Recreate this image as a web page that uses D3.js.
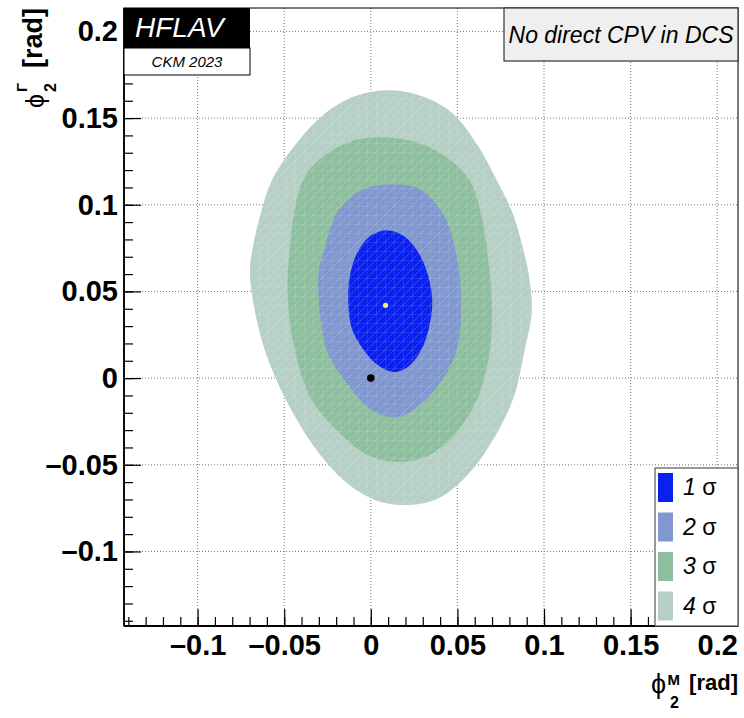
<!DOCTYPE html>
<html>
<head>
<meta charset="utf-8">
<script src="https://cdn.jsdelivr.net/npm/d3@7/dist/d3.min.js"></script>
<style>
  body { margin: 0; background: #fff; }
  svg { display: block; font-family: "Liberation Sans", Arial, sans-serif; }
</style>
</head>
<body>
<div id="chart"></div>
<script>
// confidence-level contours in (phi2M, phi2Gamma), values in rad
var sigma1 = [[0.0355,0.0444],[0.0328,0.0600],[0.0269,0.0733],[0.0186,0.0822],[0.0092,0.0853],
  [0.0001,0.0822],[-0.0073,0.0733],[-0.0119,0.0600],[-0.0130,0.0444],[-0.0110,0.0288],
  [-0.0040,0.0161],[0.0040,0.0075],[0.0133,0.0035],[0.0219,0.0069],[0.0288,0.0156],
  [0.0335,0.0288]];
var sigma2 = [[0.0127,0.1118],[0.0283,0.1089],[0.0415,0.0951],[0.0485,0.0755],[0.0519,0.0507],
  [0.0496,0.0161],[0.0398,-0.0029],[0.0283,-0.0156],[0.0150,-0.0225],[0.0006,-0.0184],
  [-0.0138,-0.0029],[-0.0254,0.0161],[-0.0300,0.0450],[-0.0300,0.0622],[-0.0265,0.0755],
  [-0.0196,0.0951],[-0.0052,0.1084]];
var sigma3 = [[0.0092,0.1389],[0.0283,0.1354],[0.0438,0.1274],[0.0571,0.1141],[0.0635,0.0951],
  [0.0669,0.0755],[0.0698,0.0450],[0.0687,0.0161],[0.0612,-0.0127],[0.0456,-0.0357],
  [0.0312,-0.0455],[0.0150,-0.0484],[-0.0006,-0.0450],[-0.0138,-0.0357],[-0.0340,-0.0127],
  [-0.0438,0.0161],[-0.0479,0.0450],[-0.0467,0.0755],[-0.0392,0.1141],[-0.0265,0.1285],
  [-0.0092,0.1372]];
var sigma4 = [[0.0127,0.1660],[0.0312,0.1620],[0.0473,0.1527],[0.0617,0.1343],[0.0727,0.1141],
  [0.0819,0.0951],[0.0877,0.0755],[0.0917,0.0565],[0.0929,0.0375],[0.0888,0.0161],
  [0.0819,-0.0127],[0.0669,-0.0415],[0.0513,-0.0605],[0.0369,-0.0703],[0.0185,-0.0732],
  [0.0023,-0.0703],[-0.0145,-0.0600],[-0.0306,-0.0425],[-0.0485,-0.0135],[-0.0612,0.0161],
  [-0.0681,0.0450],[-0.0698,0.0622],[-0.0681,0.0755],[-0.0635,0.0951],[-0.0571,0.1141],
  [-0.0438,0.1343],[-0.0265,0.1527],[-0.0075,0.1631]];

var contourColors = ['#b6cfc5', '#8dbf9e', '#8097cf', '#0a20ef'];
var legendNames = ['1', '2', '3', '4'];
var legendColors = ['#0a20ef', '#8097cf', '#8dbf9e', '#b6cfc5'];

var bestFit = [0.0085, 0.042];
var smPoint = [0, 0];

var xDomain = [-0.1425, 0.212];
var yDomain = [-0.143, 0.2135];
var majorTicks = [-0.1, -0.05, 0, 0.05, 0.1, 0.15, 0.2];
var majorLabels = ['–0.1', '–0.05', '0', '0.05', '0.1', '0.15', '0.2'];
var minorTicks = d3.range(-14, 22).map(function(i) { return i / 100; });

var W = 744, H = 718;
var margin = { top: 8, right: 6, bottom: 92, left: 124 };
var innerW = W - margin.left - margin.right,
    innerH = H - margin.top - margin.bottom;

var svg = d3.select('#chart').append('svg')
  .attr('width', W).attr('height', H);

var defs = svg.append('defs');
var pat = defs.append('pattern')
  .attr('id', 'hatch').attr('patternUnits', 'userSpaceOnUse')
  .attr('width', 9).attr('height', 9);
pat.append('path').attr('d', 'M0,0V9M0,0H9M0,9L9,0')
  .attr('stroke', '#fff').attr('stroke-width', 0.8).attr('stroke-opacity', 0.22).attr('fill', 'none');
defs.append('clipPath').attr('id', 'clip').append('rect')
  .attr('width', innerW).attr('height', innerH);

var g = svg.append('g')
  .attr('transform', 'translate(' + margin.left + ',' + margin.top + ')');

var x = d3.scaleLinear().domain(xDomain).range([0, innerW]);
var y = d3.scaleLinear().domain(yDomain).range([innerH, 0]);

// grid
var grid = g.append('g').attr('stroke', '#777').attr('stroke-width', 1).attr('stroke-dasharray', '1,2');
grid.selectAll('.gx').data(majorTicks).enter().append('line')
  .attr('x1', function(d) { return x(d); }).attr('x2', function(d) { return x(d); })
  .attr('y1', 0).attr('y2', innerH);
grid.selectAll('.gy').data(majorTicks).enter().append('line')
  .attr('y1', function(d) { return y(d); }).attr('y2', function(d) { return y(d); })
  .attr('x1', 0).attr('x2', innerW);

// contours
var line = d3.line()
  .x(function(d) { return x(d[0]); })
  .y(function(d) { return y(d[1]); })
  .curve(d3.curveCatmullRomClosed.alpha(0.5));

var plot = g.append('g').attr('clip-path', 'url(#clip)');
[sigma4, sigma3, sigma2, sigma1].forEach(function(c, i) {
  plot.append('path').attr('d', line(c)).attr('fill', contourColors[i]);
});
plot.append('path').attr('d', line(sigma4)).attr('fill', 'url(#hatch)');

plot.append('circle').attr('cx', x(smPoint[0])).attr('cy', y(smPoint[1]))
  .attr('r', 3.8).attr('fill', '#000');
plot.append('circle').attr('cx', x(bestFit[0])).attr('cy', y(bestFit[1]))
  .attr('r', 2.6).attr('fill', '#f4f06a');

// axes
function styleAxis(sel) {
  sel.select('.domain').remove();
  sel.selectAll('.tick line').attr('stroke', '#000').attr('stroke-width', 1.2);
  sel.selectAll('.tick text').attr('font-size', 29).attr('font-weight', 'bold').attr('fill', '#000');
}
var fmt = function(d) { return majorLabels[majorTicks.indexOf(d)]; };

g.append('g').attr('transform', 'translate(0,' + innerH + ')')
  .call(d3.axisBottom(x).tickValues(minorTicks).tickSize(-9).tickFormat(''))
  .call(styleAxis);
g.append('g').attr('transform', 'translate(0,' + innerH + ')')
  .call(d3.axisBottom(x).tickValues(majorTicks).tickSize(-17).tickFormat(fmt).tickPadding(8))
  .call(styleAxis);
g.append('g')
  .call(d3.axisLeft(y).tickValues(minorTicks).tickSize(-9).tickFormat(''))
  .call(styleAxis);
g.append('g')
  .call(d3.axisLeft(y).tickValues(majorTicks).tickSize(-17).tickFormat(fmt).tickPadding(6))
  .call(styleAxis);

// frame
g.append('rect').attr('width', innerW).attr('height', innerH)
  .attr('fill', 'none').attr('stroke', '#222').attr('stroke-width', 1.2);
g.append('line').attr('x1', 0).attr('x2', innerW).attr('y1', innerH).attr('y2', innerH)
  .attr('stroke', '#000').attr('stroke-width', 1.8);
g.append('line').attr('x1', 0).attr('x2', 0).attr('y1', 0).attr('y2', innerH)
  .attr('stroke', '#000').attr('stroke-width', 1.8);

// axis titles
var xt = svg.append('g').attr('transform', 'translate(738,690)').attr('font-weight', 'bold').attr('fill', '#000');
xt.append('text').attr('text-anchor', 'end').attr('font-size', 22).text('[rad]');
xt.append('text').attr('x', -58).attr('y', -5).attr('text-anchor', 'end').attr('font-size', 15).text('M');
xt.append('text').attr('x', -59).attr('y', 18).attr('text-anchor', 'end').attr('font-size', 16).text('2');
xt.append('text').attr('x', -72).attr('y', 3).attr('text-anchor', 'end').attr('font-size', 27).attr('font-weight', 'normal').text('ϕ');

var yt = svg.append('g').attr('transform', 'translate(42,8) rotate(-90)').attr('font-weight', 'bold').attr('fill', '#000');
yt.append('text').attr('text-anchor', 'end').attr('font-size', 27).text('[rad]');
yt.append('text').attr('x', -75).attr('y', -15).attr('text-anchor', 'end').attr('font-size', 15).text('Γ');
yt.append('text').attr('x', -75).attr('y', 14).attr('text-anchor', 'end').attr('font-size', 16).text('2');
yt.append('text').attr('x', -86).attr('y', 2).attr('text-anchor', 'end').attr('font-size', 25).attr('font-weight', 'normal').text('ϕ');

// HFLAV logo
var logo = svg.append('g').attr('transform', 'translate(124,8)');
logo.append('rect').attr('width', 126).attr('height', 40).attr('fill', '#000');
logo.append('rect').attr('y', 40).attr('width', 126).attr('height', 27)
  .attr('fill', '#fff').attr('stroke', '#000').attr('stroke-width', 1);
logo.append('text').attr('x', 11).attr('y', 29).attr('font-size', 28).attr('font-style', 'italic')
  .attr('fill', '#fff').text('HFLAV');
logo.append('text').attr('x', 63).attr('y', 59).attr('text-anchor', 'middle').attr('font-size', 15)
  .attr('font-style', 'italic').attr('fill', '#000').text('CKM 2023');

// label box
var box = svg.append('g').attr('transform', 'translate(504,8)');
box.append('rect').attr('width', 234).attr('height', 53)
  .attr('fill', '#efefef').attr('stroke', '#333').attr('stroke-width', 1.2);
box.append('text').attr('x', 117).attr('y', 35).attr('text-anchor', 'middle')
  .attr('font-size', 23).attr('font-style', 'italic').attr('fill', '#000').text('No direct CPV in DCS');

// legend
var leg = svg.append('g').attr('transform', 'translate(655,468)');
leg.append('rect').attr('width', 83).attr('height', 158)
  .attr('fill', '#fff').attr('stroke', '#555').attr('stroke-width', 1.2);
var items = leg.selectAll('.item').data(legendNames).enter().append('g')
  .attr('transform', function(d, i) { return 'translate(0,' + (19 + i * 39.5) + ')'; });
items.append('rect').attr('x', 3).attr('y', -14).attr('width', 15).attr('height', 29)
  .attr('fill', function(d, i) { return legendColors[i]; });
var lt = items.append('text').attr('x', 28).attr('y', 8).attr('font-size', 23).attr('fill', '#000');
lt.append('tspan').attr('font-style', 'italic').text(function(d) { return d; });
lt.append('tspan').text(' σ');
</script>
</body>
</html>
